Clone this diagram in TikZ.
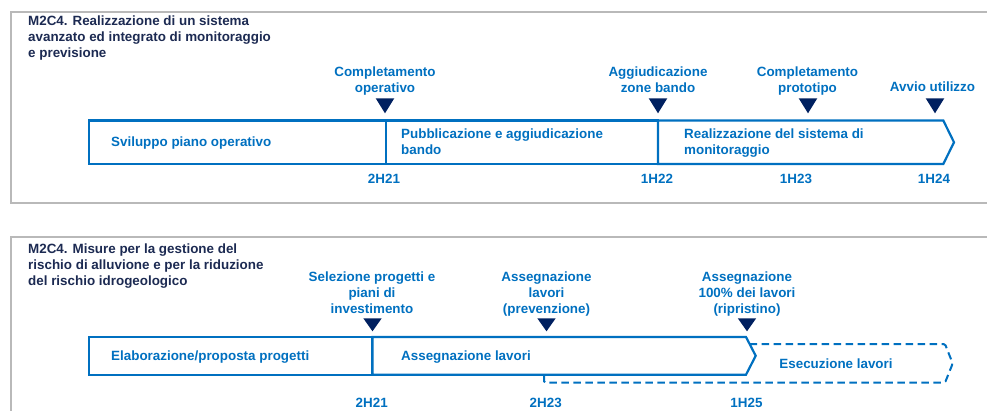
\documentclass[tikz,border=0pt]{standalone}
\usepackage{fontspec}
\setmainfont{Liberation Sans}
\definecolor{blu}{RGB}{0,112,192}
\definecolor{navy}{RGB}{0,32,96}
\definecolor{titc}{RGB}{28,42,82}
\definecolor{framegray}{RGB}{185,185,185}
\begin{document}
\begin{tikzpicture}[x=1pt,y=-1pt,
  lbl/.style={font=\fontsize{13.4}{16}\selectfont\bfseries, inner sep=0pt, text=blu},
  titlelbl/.style={lbl, text=titc, anchor=north west, align=left},
  mile/.style={lbl, anchor=north, align=center},
  phase/.style={lbl, anchor=north west, align=left},
  datelbl/.style={lbl, anchor=north},
  bar/.style={draw=blu, line width=2.2pt, fill=white, line join=miter},
  dbar/.style={draw=blu, line width=2pt, dash pattern=on 7.5pt off 4.5pt, rounded corners=1.5pt},
  frame/.style={draw=framegray, line width=2pt},
  mtri/.pic={\fill[navy] (-9.3,0) -- (9.3,0) -- (0,15) -- cycle;},
  mtrib/.pic={\fill[navy] (-9.2,0) -- (9.2,0) -- (0,13) -- cycle;}]
\useasboundingbox (0,0) rectangle (987,411);

% frames
\draw[frame] (987,12) -- (11,12) -- (11,203) -- (987,203);
\draw[frame] (987,237.3) -- (11,237.3) -- (11,411);

% ---------- top panel ----------
\node[titlelbl] (t1) at (28,16) {M2C4. Realizzazione di un sistema\\avanzato ed integrato di monitoraggio\\e previsione};

\draw[bar] (89,120.5) rectangle (386,164);
\draw[bar] (386,120.5) rectangle (658,164);
\draw[bar] (658,120.5) -- (943.3,120.5) -- (954,142.3) -- (943.3,164) -- (658,164) -- cycle;

\node[phase] (p1) at (111,137) {Sviluppo piano operativo};
\node[phase] (p2) at (401,129) {Pubblicazione e aggiudicazione\\bando};
\node[phase] (p3) at (684,129) {Realizzazione del sistema di\\monitoraggio};

\pic at (385,98.3) {mtri};
\pic at (658,98.3) {mtri};
\pic at (808,98.3) {mtri};
\pic at (935,98.3) {mtri};

\node[mile] (m1) at (385,67) {Completamento\\operativo};
\node[mile] (m2) at (658,67) {Aggiudicazione\\zone bando};
\node[mile] (m3) at (807.5,67) {Completamento\\prototipo};
\node[mile] (m4) at (932.5,82) {Avvio utilizzo};

\node[datelbl] (d1) at (384,174) {2H21};
\node[datelbl] (d2) at (657,174) {1H22};
\node[datelbl] (d3) at (796,174) {1H23};
\node[datelbl] (d4) at (934,174) {1H24};

% ---------- bottom panel ----------
\node[titlelbl] (t2) at (28,243.3) {M2C4. Misure per la gestione del\\rischio di alluvione e per la riduzione\\del rischio idrogeologico};

\draw[dbar] (544,344) -- (945,344) -- (952.7,363.5) -- (945,382.7) -- (544,382.7) -- cycle;
\draw[bar] (89,337) rectangle (372.5,374.7);
\draw[bar] (372.5,337) -- (746,337) -- (755.7,355.8) -- (746,374.7) -- (372.5,374.7) -- cycle;

\node[phase] (q1) at (111,350.7) {Elaborazione/proposta progetti};
\node[phase] (q2) at (401,350.7) {Assegnazione lavori};
\node[lbl, anchor=north] (q3) at (836,358.3) {Esecuzione lavori};

\pic at (372.5,318.3) {mtrib};
\pic at (546.5,318.3) {mtrib};
\pic at (747,318.3) {mtrib};

\node[mile] (n1) at (372,272) {Selezione progetti e\\piani di\\investimento};
\node[mile] (n2) at (546.5,272) {Assegnazione\\lavori\\(prevenzione)};
\node[mile] (n3) at (747,272) {Assegnazione\\100\% dei lavori\\(ripristino)};

\node[datelbl] (e1) at (371.7,398) {2H21};
\node[datelbl] (e2) at (545.7,398) {2H23};
\node[datelbl] (e3) at (746.5,398) {1H25};
\end{tikzpicture}
\end{document}
